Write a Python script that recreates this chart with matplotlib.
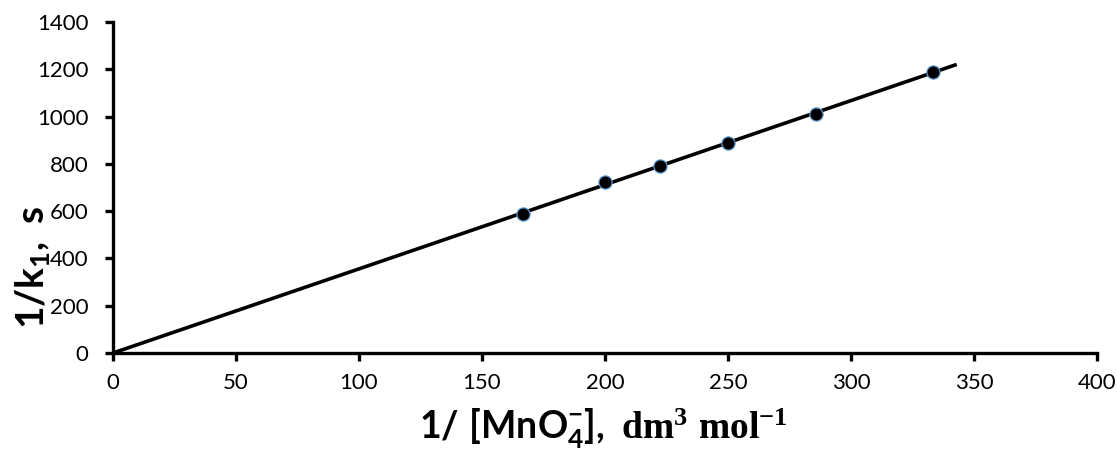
import numpy as np
import matplotlib.pyplot as plt

# 1/[MnO4-] (dm3 mol-1) and 1/k1 (s)
inv_conc = [166.7, 200.0, 222.2, 250.0, 285.7, 333.3]
inv_k1 = [587, 722, 791, 890, 1011, 1187]
fit_x_end = 343

x_ticks = [0, 50, 100, 150, 200, 250, 300, 350, 400]
y_ticks = [0, 200, 400, 600, 800, 1000, 1200, 1400]

plt.rcParams['mathtext.fontset'] = 'custom'
plt.rcParams['mathtext.rm'] = 'Liberation Serif:bold'
plt.rcParams['mathtext.sf'] = 'Lato:bold'
plt.rcParams['mathtext.it'] = 'Lato:bold'
plt.rcParams['mathtext.bf'] = 'Lato:bold'

fig = plt.figure(figsize=(11.17, 4.58), dpi=100)
ax = fig.add_axes([0.1012, 0.2293, 0.8808, 0.7227])

# line through origin fitted to the points
x = np.array(inv_conc)
y = np.array(inv_k1)
slope = np.sum(x * y) / np.sum(x * x)
xl = np.array([0, fit_x_end])
ax.plot(xl, slope * xl, color='black', lw=2.6, solid_capstyle='butt')
ax.plot(x, y, 'o', color='black', ms=9.5, mec='#5b9bd5', mew=0.9)

ax.set_xlim(0, 400)
ax.set_ylim(0, 1400)
ax.set_xticks(x_ticks)
ax.set_yticks(y_ticks)
for s in ['top', 'right']:
    ax.spines[s].set_visible(False)
for s in ['left', 'bottom']:
    ax.spines[s].set_linewidth(2.4)
ax.tick_params(direction='out', length=5.5, width=2.4, labelsize=16)
ax.tick_params(axis='x', pad=9)
ax.tick_params(axis='y', pad=12)
for lab in ax.get_xticklabels() + ax.get_yticklabels():
    lab.set_family('Lato')

fig.text(0.54, 0.015, r'$\mathsf{1/\ [MnO_4^{-}],}\ \mathrm{dm^3\ mol^{-1}}$',
         ha='center', va='bottom', fontsize=27)
fig.text(0.029, 0.415, r'$\mathsf{1/k_1,\ s}$', rotation=90,
         ha='center', va='center', fontsize=28)

fig.savefig('out.png', dpi=100)
